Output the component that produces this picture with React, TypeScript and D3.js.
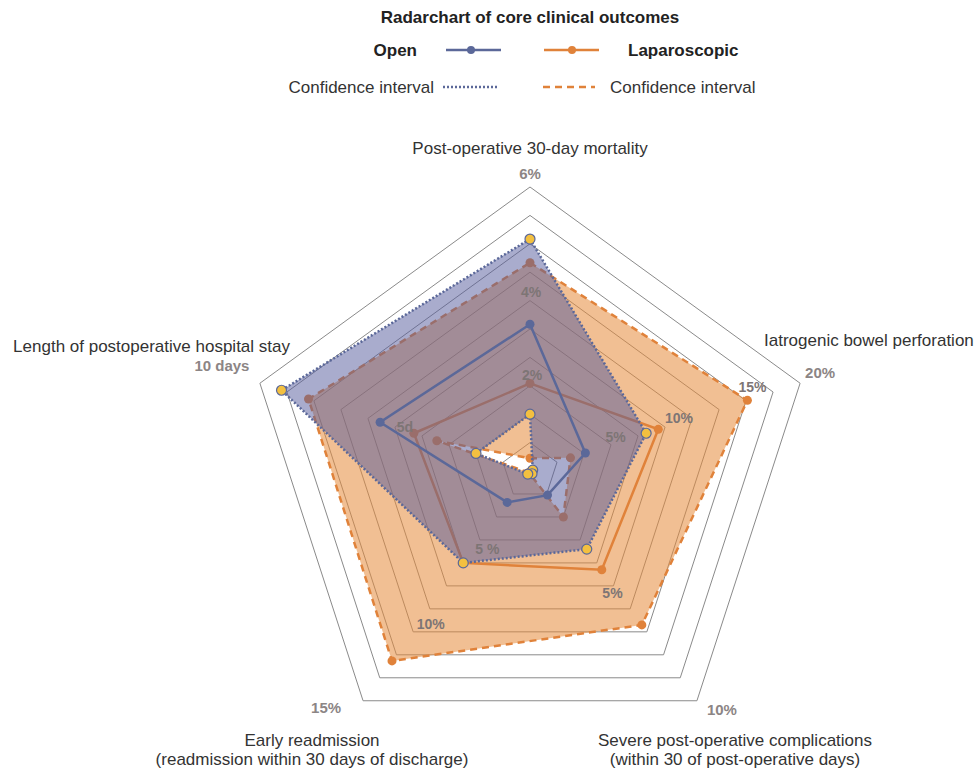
import React from "react";
import * as d3 from "d3";

// axes, clockwise from the top
const axisNames = [
  ["Post-operative 30-day mortality"],
  ["Iatrogenic bowel perforation"],
  ["Severe post-operative complications", "(within 30 of post-operative days)"],
  ["Early readmission", "(readmission within 30 days of discharge)"],
  ["Length of postoperative hospital stay"],
];
const axisMax = [6, 20, 10, 15, 10];
const maxLabels = ["6%", "20%", "10%", "15%", "10 days"];
const tickValues = [[2, 4], [5, 10, 15], [5], [5, 10], [5]];
const tickLabels = [["2%", "4%"], ["5%", "10%", "15%"], ["5%"], ["5 %", "10%"], ["5d"]];

// Open surgery
const openMean = [3.1, 4.1, 1.05, 2.05, 5.55];
const openUpper = [4.9, 8.6, 3.4, 6.0, 9.2];
const openLower = [1.2, 0.2, 0.12, 0.2, 2.0];

// Laparoscopic surgery
const lapMean = [1.85, 9.5, 4.3, 6.0, 4.3];
const lapUpper = [4.4, 16.1, 6.7, 12.4, 8.2];
const lapLower = [0.27, 3.0, 2.0, 0.1, 3.45];

const W = 976;
const H = 772;
const cx = 530;
const cy = 471;
const R = 284;
const rings = 10;

const BLUE = "#5b6899";
const ORANGE = "#e0823a";
const YELLOW = "#f3c040";
const GRID = "#8a8a8a";
const TICK = "#8c8585";
const FONT = "'Liberation Sans', Arial, sans-serif";

// label placement (offsets from the point on the axis, one per tick)
const tickOffset = [
  [[2, -1], [1, 10]],
  [[18, -12], [14, -9], [20, -18]],
  [[-1, 7]],
  [[13, 1], [12, 0]],
  [[10, 0]],
];
const maxOffset = [
  [0, -14],
  [20, -11],
  [25, 9],
  [-37, 7],
  [-38, -18],
];
const namePos = [
  { x: 530, y: 154, anchor: "middle" },
  { x: 764, y: 346, anchor: "start" },
  { x: 735, y: 746, anchor: "middle" },
  { x: 312, y: 746, anchor: "middle" },
  { x: 290, y: 352, anchor: "end" },
];

const angle = d3
  .scaleLinear()
  .domain([0, axisMax.length])
  .range([0, 2 * Math.PI]);

const scales = axisMax.map((m) => d3.scaleLinear().domain([0, m]).range([0, R]));

const pt = (i: number, r: number): [number, number] => {
  const a = angle(i);
  return [cx + r * Math.sin(a), cy - r * Math.cos(a)];
};
const valuePt = (i: number, v: number) => pt(i, scales[i](v));

const closed = d3.line<[number, number]>().curve(d3.curveLinearClosed);
const poly = (vals: number[]) => closed(vals.map((v, i) => valuePt(i, v))) as string;
const ringPath = (r: number) => closed(axisMax.map((_, i) => pt(i, r))) as string;

const Dots = ({ vals, fill, stroke, r }: { vals: number[]; fill: string; stroke?: string; r: number }) => (
  <g>
    {vals.map((v, i) => {
      const [x, y] = valuePt(i, v);
      return <circle key={i} cx={x} cy={y} r={r} fill={fill} stroke={stroke || "none"} strokeWidth={1.2} />;
    })}
  </g>
);

export default function App() {
  const ringRadii = d3.range(1, rings + 1).map((k) => (R * k) / rings);

  return (
    <svg
      width={W}
      height={H}
      style={{ position: "absolute", left: 0, top: 0, background: "#fff" }}
      fontFamily={FONT}
    >
      {/* title + legend */}
      <text x={530} y={23} textAnchor="middle" fontSize={17} fontWeight="bold" fill="#222">
        Radarchart of core clinical outcomes
      </text>
      <text x={417} y={56} textAnchor="end" fontSize={17} fontWeight="bold" fill="#222">
        Open
      </text>
      <line x1={446} x2={501} y1={50} y2={50} stroke={BLUE} strokeWidth={2.5} />
      <circle cx={471} cy={50} r={4} fill={BLUE} />
      <line x1={544} x2={599} y1={50} y2={50} stroke={ORANGE} strokeWidth={2.5} />
      <circle cx={572} cy={50} r={4} fill={ORANGE} />
      <text x={628} y={56} fontSize={17} fontWeight="bold" fill="#222">
        Laparoscopic
      </text>
      <text x={434} y={93} textAnchor="end" fontSize={17} fill="#333">
        Confidence interval
      </text>
      <line x1={443} x2={499} y1={87} y2={87} stroke={BLUE} strokeWidth={2.5} strokeDasharray="2 2" />
      <line x1={543} x2={595} y1={87} y2={87} stroke={ORANGE} strokeWidth={2.5} strokeDasharray="7 5" />
      <text x={610} y={93} fontSize={17} fill="#333">
        Confidence interval
      </text>

      {/* grid */}
      {ringRadii.map((r, k) => (
        <path key={k} d={ringPath(r)} fill="none" stroke={GRID} strokeWidth={1} />
      ))}

      {/* laparoscopic */}
      <path d={poly(lapUpper) + poly(lapLower)} fill="#e58a3a" fillOpacity={0.55} fillRule="evenodd" />
      <path d={poly(lapUpper)} fill="none" stroke={ORANGE} strokeWidth={2.5} strokeDasharray="7 5" />
      <path d={poly(lapLower)} fill="none" stroke={ORANGE} strokeWidth={2.5} strokeDasharray="7 5" />
      <path d={poly(lapMean)} fill="none" stroke={ORANGE} strokeWidth={2.5} />
      <Dots vals={lapUpper} fill={ORANGE} r={4.5} />
      <Dots vals={lapLower} fill={ORANGE} r={4.5} />
      <Dots vals={lapMean} fill={ORANGE} r={4.5} />

      {/* open */}
      <path d={poly(openUpper) + poly(openLower)} fill="#535a9c" fillOpacity={0.5} fillRule="evenodd" />
      <path d={poly(openUpper)} fill="none" stroke={BLUE} strokeWidth={2.5} strokeDasharray="2 2" />
      <path d={poly(openLower)} fill="none" stroke={BLUE} strokeWidth={2.5} strokeDasharray="2 2" />
      <path d={poly(openMean)} fill="none" stroke={BLUE} strokeWidth={2.5} />
      <Dots vals={openMean} fill={BLUE} r={4.5} />
      <Dots vals={openUpper} fill={YELLOW} stroke={BLUE} r={5} />
      <Dots vals={openLower} fill={YELLOW} stroke={BLUE} r={5} />

      {/* tick labels */}
      {tickValues.map((ticks, i) =>
        ticks.map((t, j) => {
          const [x, y] = valuePt(i, t);
          return (
            <text
              key={`${i}-${j}`}
              x={x + tickOffset[i][j][0]}
              y={y + tickOffset[i][j][1]}
              textAnchor="middle"
              dominantBaseline="central"
              fontSize={14}
              fontWeight="bold"
              fill="#7d7575"
            >
              {tickLabels[i][j]}
            </text>
          );
        })
      )}
      {maxLabels.map((lab, i) => {
        const [x, y] = valuePt(i, axisMax[i]);
        return (
          <text
            key={i}
            x={x + maxOffset[i][0]}
            y={y + maxOffset[i][1]}
            textAnchor="middle"
            dominantBaseline="central"
            fontSize={15}
            fontWeight="bold"
            fill={TICK}
          >
            {lab}
          </text>
        );
      })}

      {/* axis names */}
      {axisNames.map((lines, i) => (
        <text key={i} x={namePos[i].x} y={namePos[i].y} textAnchor={namePos[i].anchor} fontSize={17} fill="#333">
          {lines.map((l, k) => (
            <tspan key={k} x={namePos[i].x} dy={k === 0 ? 0 : 19}>
              {l}
            </tspan>
          ))}
        </text>
      ))}
    </svg>
  );
}
